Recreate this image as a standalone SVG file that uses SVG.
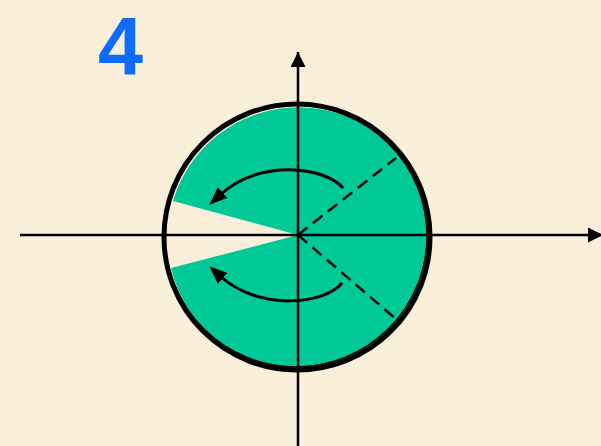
<svg xmlns="http://www.w3.org/2000/svg" width="601" height="446" viewBox="0 0 601 446">
<defs>
<style>
.ax{stroke:#000;stroke-width:2.5;fill:none}
.arc{stroke:#000;stroke-width:3;fill:none}
.dash{stroke:#000;stroke-width:2.5;fill:none;stroke-dasharray:12 7}
</style>
<marker id="ah" viewBox="0 0 10 10" refX="10" refY="5" markerWidth="15" markerHeight="15" markerUnits="userSpaceOnUse" orient="auto">
<path d="M0,0 L10,5 L0,10 Z" fill="#000"/>
</marker>
<marker id="ah2" viewBox="0 0 10 10" refX="2" refY="5" markerWidth="18" markerHeight="18" markerUnits="userSpaceOnUse" orient="auto">
<path d="M0,1 L10,5 L0,9 Z" fill="#000"/>
</marker>
</defs>
<rect width="601" height="446" fill="#FAEFD8"/>
<text x="98" y="74" font-family="Liberation Sans, Arial, sans-serif" font-weight="bold" font-size="81" fill="#0F6BFF">4</text>
<g id="disc">
<path d="M298,235 L173,201 A131,131 0 1 1 171,268 Z" fill="#00C997"/>
<circle cx="296" cy="236" r="131" fill="none" stroke="#000" stroke-width="1.5"/>
<circle cx="297" cy="237" r="133" fill="none" stroke="#000" stroke-width="5"/>
</g>
<g id="connectors">
<line class="ax" x1="20" y1="235" x2="603" y2="235" marker-end="url(#ah)"/>
<line class="ax" x1="298" y1="446" x2="298" y2="52" marker-end="url(#ah)"/>
<line class="dash" x1="298" y1="235" x2="396" y2="158"/>
<line class="dash" x1="298" y1="235" x2="396" y2="319"/>
<path class="arc" d="M343,188 C325,167 260,158 220,195" marker-end="url(#ah2)"/>
<path class="arc" d="M342,283 C325,304 260,312 220,276" marker-end="url(#ah2)"/>
</g>
</svg>
